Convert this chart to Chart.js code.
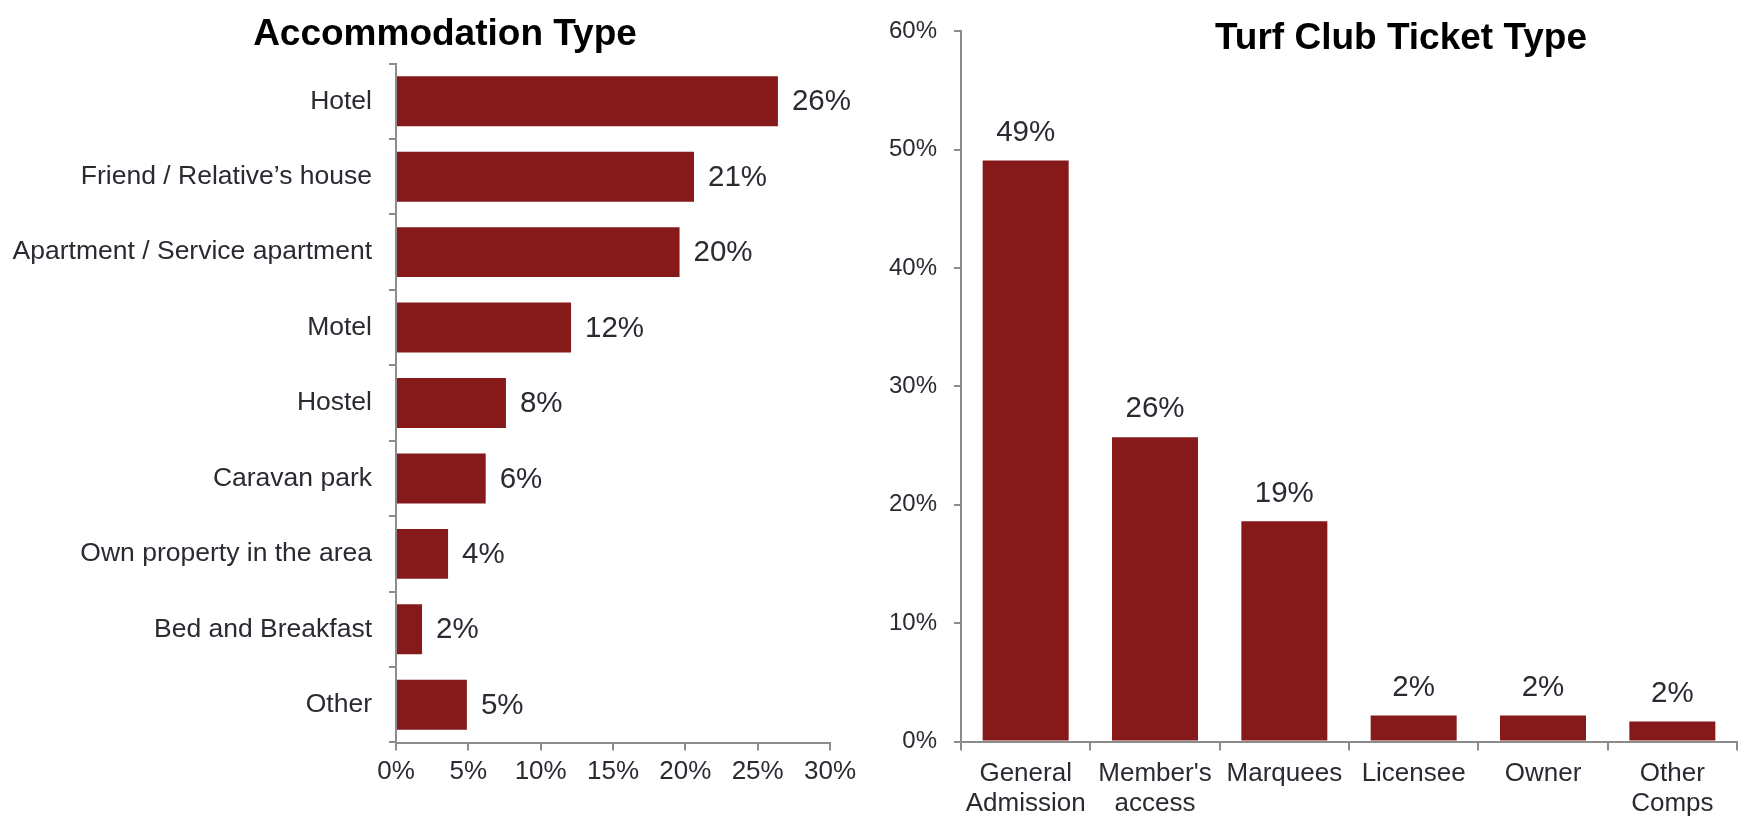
<!DOCTYPE html>
<html>
<head>
<meta charset="utf-8">
<script src="https://cdn.jsdelivr.net/npm/chart.js@4/dist/chart.umd.min.js"></script>
<style>
  html, body { margin: 0; padding: 0; background: #ffffff; }
  #wrap { position: relative; width: 1750px; height: 818px; overflow: hidden; }
  .box { position: absolute; top: 0; height: 818px; }
</style>
</head>
<body>
<div id="wrap">
  <div class="box" style="left:0;width:875px;"><canvas id="left"></canvas></div>
  <div class="box" style="left:875px;width:875px;"><canvas id="right"></canvas></div>
</div>
<script>
// ---- Data ----
const accTitle = "Accommodation Type";
const accCategories = [
  "Hotel",
  "Friend / Relative\u2019s house",
  "Apartment / Service apartment",
  "Motel",
  "Hostel",
  "Caravan park",
  "Own property in the area",
  "Bed and Breakfast",
  "Other"
];
const accValues = [26.4, 20.6, 19.6, 12.1, 7.6, 6.2, 3.6, 1.8, 4.9];
const accTicks = [0, 5, 10, 15, 20, 25, 30];

const turfTitle = "Turf Club Ticket Type";
const turfCategories = [
  ["General", "Admission"],
  ["Member's", "access"],
  "Marquees",
  "Licensee",
  "Owner",
  ["Other", "Comps"]
];
const turfValues = [49.1, 25.7, 18.6, 2.2, 2.2, 1.7];
const turfTicks = [0, 10, 20, 30, 40, 50, 60];

// ---- Styles ----
const BAR = "#861a1a";
const AXIS = "#8c8c8c";
const TEXT = "#2a2a32";
const FONT = "'Liberation Sans', Arial, Helvetica, sans-serif";

Chart.defaults.font.family = FONT;
Chart.defaults.color = TEXT;

function titlePlugin(text, cx, baseline) {
  return {
    id: "customTitle",
    afterDraw(chart) {
      const ctx = chart.ctx;
      ctx.save();
      ctx.font = "bold 37px " + FONT;
      ctx.fillStyle = "#000000";
      ctx.textAlign = "center";
      ctx.textBaseline = "alphabetic";
      ctx.fillText(text, cx, baseline);
      ctx.restore();
    }
  };
}

function labelPlugin(horizontal) {
  return {
    id: "valueLabels",
    afterDatasetsDraw(chart) {
      const ctx = chart.ctx;
      const meta = chart.getDatasetMeta(0);
      const vals = chart.data.datasets[0].data;
      ctx.save();
      ctx.font = "29.5px " + FONT;
      ctx.fillStyle = TEXT;
      meta.data.forEach((bar, i) => {
        const txt = Math.round(vals[i]) + "%";
        if (horizontal) {
          ctx.textAlign = "left";
          ctx.textBaseline = "middle";
          ctx.fillText(txt, bar.x + 14, bar.y + 1);
        } else {
          ctx.textAlign = "center";
          ctx.textBaseline = "middle";
          ctx.fillText(txt, bar.x, bar.y - 28);
        }
      });
      ctx.restore();
    }
  };
}

// ---- Left chart: Accommodation Type ----
new Chart(document.getElementById("left"), {
  type: "bar",
  data: {
    labels: accCategories,
    datasets: [{
      data: accValues,
      backgroundColor: BAR,
      borderWidth: 0,
      categoryPercentage: 1,
      barPercentage: 0.662
    }]
  },
  options: {
    indexAxis: "y",
    responsive: true,
    maintainAspectRatio: false,
    animation: false,
    layout: { padding: { top: 63.5, right: 45, bottom: 0, left: 0 } },
    plugins: { legend: { display: false }, tooltip: { enabled: false }, title: { display: false } },
    scales: {
      x: {
        min: 0, max: 30,
        afterBuildTicks(scale) { scale.ticks = accTicks.map(v => ({ value: v })); },
        afterFit(scale) { scale.height = 75.5; },
        ticks: { callback: v => v + "%", font: { size: 26 }, color: TEXT, padding: 6, maxRotation: 0 },
        grid: { drawOnChartArea: false, drawTicks: true, tickLength: 8, color: AXIS, lineWidth: 2 },
        border: { display: true, color: AXIS, width: 2 }
      },
      y: {
        afterFit(scale) { scale.width = 396; },
        ticks: { font: { size: 26.5 }, color: TEXT, padding: 17 },
        grid: { drawOnChartArea: false, drawTicks: true, tickLength: 7, color: AXIS, lineWidth: 2, offset: true },
        border: { display: true, color: AXIS, width: 2 }
      }
    }
  },
  plugins: [labelPlugin(true), titlePlugin(accTitle, 445, 45)]
});

// ---- Right chart: Turf Club Ticket Type ----
new Chart(document.getElementById("right"), {
  type: "bar",
  data: {
    labels: turfCategories,
    datasets: [{
      data: turfValues,
      backgroundColor: BAR,
      borderWidth: 0,
      categoryPercentage: 1,
      barPercentage: 0.665
    }]
  },
  options: {
    responsive: true,
    maintainAspectRatio: false,
    animation: false,
    layout: { padding: { top: 19, right: 13, bottom: 0, left: 0 } },
    plugins: { legend: { display: false }, tooltip: { enabled: false }, title: { display: false } },
    scales: {
      x: {
        afterFit(scale) { scale.height = 76.5; },
        ticks: { font: { size: 26, lineHeight: 1.15 }, color: TEXT, padding: 8, maxRotation: 0, autoSkip: false },
        grid: { drawOnChartArea: false, drawTicks: true, tickLength: 9, color: AXIS, lineWidth: 2, offset: true },
        border: { display: true, color: AXIS, width: 2 }
      },
      y: {
        min: 0, max: 60,
        afterBuildTicks(scale) { scale.ticks = turfTicks.map(v => ({ value: v })); },
        afterFit(scale) { scale.width = 86; },
        ticks: { callback: v => v + "%", font: { size: 24 }, color: TEXT, padding: 17 },
        grid: { drawOnChartArea: false, drawTicks: true, tickLength: 7, color: AXIS, lineWidth: 2 },
        border: { display: true, color: AXIS, width: 2 }
      }
    }
  },
  plugins: [labelPlugin(false), titlePlugin(turfTitle, 526, 49)]
});
</script>
</body>
</html>
